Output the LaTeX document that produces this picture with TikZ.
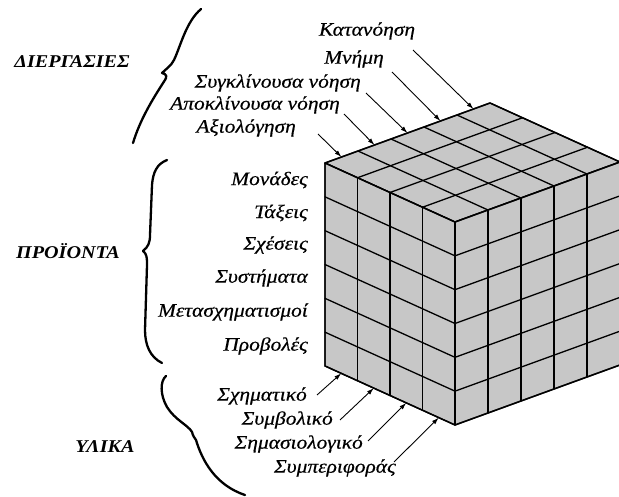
\documentclass[tikz,border=0pt]{standalone}
\usepackage{fontspec}
\setmainfont{Liberation Serif}
\newfontfamily\lblfam[FakeStretch=1.13,FakeBold=0.4]{Liberation Serif}
\newfontfamily\ttlfam[FakeStretch=1.12]{Liberation Serif}
\usetikzlibrary{arrows.meta,calc}
\begin{document}
\begin{tikzpicture}[x=1pt,y=-1pt,
  lbl/.style={font=\lblfam\fontsize{19}{21}\selectfont\itshape, inner sep=0pt},
  ttl/.style={font=\ttlfam\fontsize{18}{20}\selectfont\bfseries\itshape, inner sep=0pt},
  ar/.style={-{Latex[length=7pt,width=4.5pt]}, line width=0.9pt},
  gridline/.style={line width=1.3pt, line join=round, line cap=round},
  face/.style={fill=black!22, draw=black, line width=1.4pt, line join=round},
  brace/.style={line width=2.3pt, line cap=round, line join=round}]
\useasboundingbox (0,0) rectangle (619,497);
% cube geometry
\coordinate (O) at (455,222);
\coordinate (La) at (-32.5,-14.75);
\coordinate (Lb) at (33,-12);
\coordinate (Lc) at (0,33.833);
\coordinate (TL) at ($(O)+4*(La)$);
\coordinate (TB) at ($(O)+4*(La)+5*(Lb)$);
\coordinate (TR) at ($(O)+5*(Lb)$);
\coordinate (BF) at ($(O)+6*(Lc)$);
\coordinate (BL) at ($(TL)+6*(Lc)$);
\coordinate (BR) at ($(TR)+6*(Lc)$);
% faces
\draw[face] (O) -- (TL) -- (TB) -- (TR) -- cycle;
\draw[face] (O) -- (TL) -- (BL) -- (BF) -- cycle;
\draw[face] (O) -- (TR) -- (BR) -- (BF) -- cycle;
% top grid
\foreach \i in {1,2,3} \draw[gridline] ($(O)+\i*(La)$) -- ($(O)+\i*(La)+5*(Lb)$);
\foreach \j in {1,2,3,4} \draw[gridline] ($(O)+\j*(Lb)$) -- ($(O)+\j*(Lb)+4*(La)$);
% left grid
\foreach \i in {1,2,3} \draw[gridline] ($(O)+\i*(La)$) -- ($(O)+\i*(La)+6*(Lc)$);
\foreach \k in {1,...,5} \draw[gridline] ($(O)+\k*(Lc)$) -- ($(O)+\k*(Lc)+4*(La)$);
% right grid
\foreach \j in {1,2,3,4} \draw[gridline] ($(O)+\j*(Lb)$) -- ($(O)+\j*(Lb)+6*(Lc)$);
\foreach \k in {1,...,5} \draw[gridline] ($(O)+\k*(Lc)$) -- ($(O)+\k*(Lc)+5*(Lb)$);
% outline again
\draw[face, fill=none] (O) -- (TL) -- (TB) -- (TR) -- cycle;
\draw[face, fill=none] (TL) -- (BL) -- (BF) -- (BR) -- (TR);
\draw[face, fill=none] (O) -- (BF);

% operations
\node[lbl] (op5) at (367,31) {Κατανόηση};
\node[lbl] (op4) at (354,59) {Μνήμη};
\node[lbl, anchor=east] (op3) at (361,83) {Συγκλίνουσα νόηση};
\node[lbl, anchor=east] (op2) at (340,105) {Αποκλίνουσα νόηση};
\node[lbl, anchor=east] (op1) at (296,128) {Αξιολόγηση};
\coordinate (t5) at (413,50);
\coordinate (t4) at (392,72);
\coordinate (t3) at (366,93);
\coordinate (t2) at (344,114);
\coordinate (t1) at (318,134);
\foreach \k in {1,...,5} {
  \coordinate (p\k) at ($(TL)+\k*(Lb)-0.5*(Lb)$);
  \draw[ar] (t\k) -- (p\k);
}
% products
\node[lbl, anchor=east] (pr1) at (308,180) {Μονάδες};
\node[lbl, anchor=east] (pr2) at (308,213) {Τάξεις};
\node[lbl, anchor=east] (pr3) at (308,245) {Σχέσεις};
\node[lbl, anchor=east] (pr4) at (308,278) {Συστήματα};
\node[lbl, anchor=east] (pr5) at (308,312) {Μετασχηματισμοί};
\node[lbl, anchor=east] (pr6) at (308,346) {Προβολές};
% contents
\node[lbl, anchor=east] (c1) at (307,396) {Σχηματικό};
\node[lbl, anchor=east] (c2) at (333,420) {Συμβολικό};
\node[lbl, anchor=east] (c3) at (363,444) {Σημασιολογικό};
\node[lbl, anchor=east] (c4) at (396,468) {Συμπεριφοράς};
\coordinate (s1) at (317,395);
\coordinate (s2) at (340,420);
\coordinate (s3) at (368,441);
\coordinate (s4) at (394,462);
\foreach \k in {1,...,4} {
  \coordinate (q\k) at ($(BL)-\k*(La)+0.5*(La)$);
  \draw[ar] (s\k) -- (q\k);
}
% titles
\node[ttl] (T1) at (72,62) {ΔΙΕΡΓΑΣΙΕΣ};
\node[ttl] (T2) at (68,251) {ΠΡΟΪΟΝΤΑ};
\node[ttl] (T3) at (105,447) {ΥΛΙΚΑ};
% braces
\draw[brace] (201,9) .. controls (186,22) and (181,45) .. (174,60) .. controls (171,66) and (166,69) .. (162,73) .. controls (167,74) and (167,77) .. (165,80) .. controls (152,100) and (140,120) .. (133,143);
\draw[brace] (167,160) .. controls (157,164) and (153,172) .. (152,185) -- (150,235) .. controls (150,243) and (148,247) .. (143,251) .. controls (147,254) and (147,258) .. (147,265) -- (145,330) .. controls (145,345) and (150,357) .. (162,363);
\draw[brace] (166,376) .. controls (160,381) and (160,395) .. (167,407) .. controls (175,420) and (188,425) .. (192,432) .. controls (193,436) and (194,437) .. (196,440) .. controls (202,460) and (215,485) .. (245,495);
\end{tikzpicture}
\end{document}
